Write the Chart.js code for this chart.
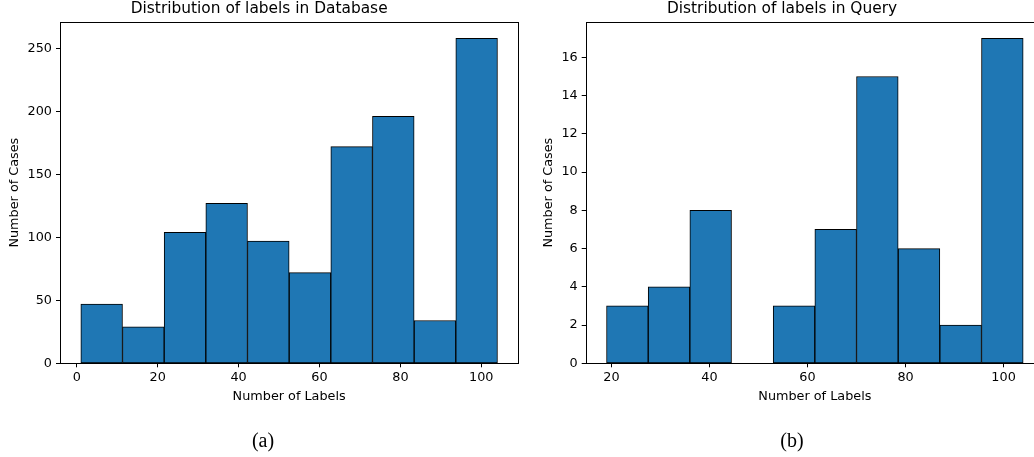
<!DOCTYPE html>
<html lang="en">
<head>
<meta charset="UTF-8">
<script src="https://cdn.jsdelivr.net/npm/chart.js"></script>
<title>Distribution of labels</title>
<style>
  html, body { margin: 0; padding: 0; background: #fff; }
  body { width: 1034px; height: 457px; overflow: hidden; position: relative; }
  canvas { position: absolute; top: 0; }
  .caption {
    position: absolute; top: 429px;
    font-family: "Liberation Serif", "Times New Roman", serif; font-size: 20px; color: #000;
    transform: translateX(-50%);
  }
</style>
</head>
<body>
  <canvas id="dbChart" width="520" height="457" style="left:0"></canvas>
  <canvas id="queryChart" width="526" height="457" style="left:520px"></canvas>
  <div class="caption" style="left:263px">(a)</div>
  <div class="caption" style="left:792px">(b)</div>

<script>
// histogram bins (edges) and counts
const dbEdges = [1, 11.3, 21.6, 31.9, 42.2, 52.5, 62.8, 73.1, 83.4, 93.7, 104];
const dbCounts = [47, 29, 104, 127, 97, 72, 172, 196, 34, 258];
const dbXTicks = [0, 20, 40, 60, 80, 100];
const dbYTicks = [0, 50, 100, 150, 200, 250];

const queryEdges = [19, 27.5, 36, 44.5, 53, 61.5, 70, 78.5, 87, 95.5, 104];
const queryCounts = [3, 4, 8, 0, 3, 7, 15, 6, 2, 17];
const queryXTicks = [20, 40, 60, 80, 100];
const queryYTicks = [0, 2, 4, 6, 8, 10, 12, 14, 16];

const FONT = "'DejaVu Sans', sans-serif";

// black box round the plot area, like a matplotlib axes frame
const framePlugin = {
    id: 'frame',
    afterDraw(chart) {
        const a = chart.chartArea;
        const ctx = chart.ctx;
        ctx.save();
        ctx.strokeStyle = '#000';
        ctx.lineWidth = 1;
        ctx.strokeRect(Math.round(a.left) + 0.5, Math.round(a.top) + 0.5,
            Math.round(a.right - a.left), Math.round(a.bottom - a.top));
        ctx.restore();
    }
};

function makeHist(id, title, edges, counts, xTicks, yTicks, yAxisWidth, yTitlePad, padRight) {
    const points = counts.map((c, i) => ({ x: (edges[i] + edges[i + 1]) / 2, y: c }));
    const span = edges[edges.length - 1] - edges[0];
    const tickFont = { family: FONT, size: 12.8 };

    new Chart(document.getElementById(id), {
        type: 'bar',
        data: {
            datasets: [{
                data: points,
                backgroundColor: '#1f77b4',
                borderColor: '#000',
                borderWidth: 1,
                borderSkipped: false,
                barPercentage: 1,
                categoryPercentage: 1
            }]
        },
        options: {
            responsive: false,
            animation: false,
            layout: { padding: { left: 0, right: padRight, top: 0, bottom: 51.7 } },
            plugins: {
                legend: { display: false },
                tooltip: { enabled: false },
                title: {
                    display: true,
                    text: title,
                    color: '#000',
                    font: { family: FONT, size: 15.4, weight: 'normal' },
                    padding: { top: 0, bottom: 3.5 }
                }
            },
            scales: {
                x: {
                    type: 'linear',
                    offset: false,
                    min: edges[0] - 0.05 * span,
                    max: edges[edges.length - 1] + 0.05 * span,
                    afterBuildTicks: s => { s.ticks = xTicks.map(v => ({ value: v })); },
                    afterFit: s => { s.height = 42; },
                    border: { display: false },
                    grid: { offset: false, drawOnChartArea: false, drawTicks: true, tickLength: 4, color: '#000' },
                    ticks: { color: '#000', font: tickFont, padding: 3, maxRotation: 0 },
                    title: {
                        display: true, text: 'Number of Labels', color: '#000',
                        font: tickFont, padding: { top: 0, bottom: 1 }
                    }
                },
                y: {
                    min: 0,
                    max: Math.max(...counts) * 1.05,
                    afterBuildTicks: s => { s.ticks = yTicks.map(v => ({ value: v })); },
                    afterFit: s => { s.width = yAxisWidth; },
                    border: { display: false },
                    grid: { drawOnChartArea: false, drawTicks: true, tickLength: 4, color: '#000' },
                    ticks: { color: '#000', font: tickFont, padding: 4 },
                    title: {
                        display: true, text: 'Number of Cases', color: '#000',
                        font: tickFont, padding: { top: yTitlePad, bottom: 0 }
                    }
                }
            }
        },
        plugins: [framePlugin]
    });
}

makeHist('dbChart', 'Distribution of labels in Database',
    dbEdges, dbCounts, dbXTicks, dbYTicks, 60, 6.5, 1.7);
makeHist('queryChart', 'Distribution of labels in Query',
    queryEdges, queryCounts, queryXTicks, queryYTicks, 65.7, 20.5, 2);
</script>
</body>
</html>
